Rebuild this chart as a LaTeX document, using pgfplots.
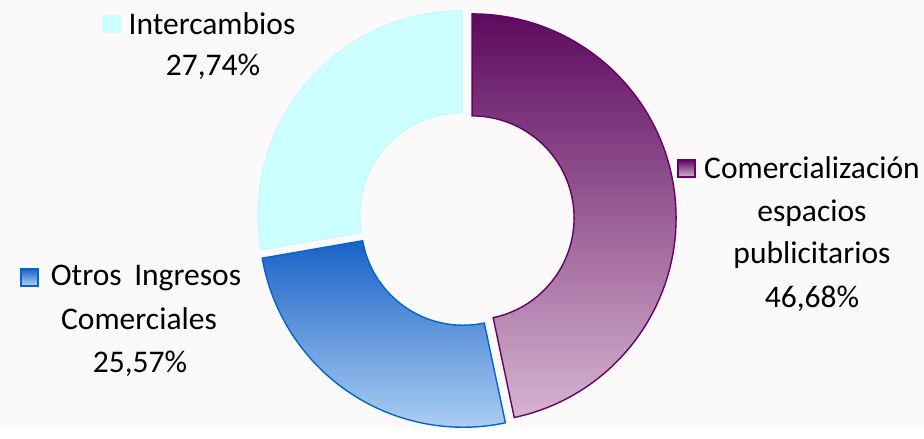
\documentclass[border=0pt]{standalone}
\usepackage{pgfplots}
\pgfplotsset{compat=1.18}
\usepackage{fontspec}
\setmainfont{Carlito}
\usetikzlibrary{calc}

\definecolor{purpleline}{HTML}{660066}
\definecolor{purpletop}{HTML}{5C0A5E}
\definecolor{purplebot}{HTML}{D6B4D0}
\definecolor{blueline}{HTML}{0066CC}
\definecolor{bluetop}{HTML}{1A62C8}
\definecolor{bluebot}{HTML}{B4D4F4}
\definecolor{cyanfill}{HTML}{CCFFFF}
\definecolor{cyanline}{HTML}{C4FAFC}
\definecolor{bgcol}{HTML}{FBF9F9}

% shares (percent)
\def\valCom{46.68}
\def\valOtros{25.57}
\def\valInter{27.74}

% geometry of the ring, in pixels of the reference
\def\cx{466.4}\def\cy{208.5}\def\R{204}\def\r{102}\def\d{5.7}

\pgfmathsetmacro\total{\valCom+\valOtros+\valInter}
\pgfmathsetmacro\aA{90}
\pgfmathsetmacro\aB{\aA-\valCom/\total*360}
\pgfmathsetmacro\aC{\aB-\valOtros/\total*360}
\pgfmathsetmacro\aD{\aC-\valInter/\total*360}

\newcommand\slice[3]{%
  \pgfmathsetmacro\mid{(#1+#2)/2}%
  \pgfmathsetmacro\ox{\cx+\d*cos(\mid)}%
  \pgfmathsetmacro\oy{\cy+\d*sin(\mid)}%
  \edef\temp{\noexpand\shade[#3] ($(axis cs:\ox,\oy)+(#1:\R pt)$)
    arc[start angle=#1,end angle=#2,radius=\R pt]
    -- ($(axis cs:\ox,\oy)+(#2:\r pt)$)
    arc[start angle=#2,end angle=#1,radius=\r pt] -- cycle;}%
  \temp}

\begin{document}
\begin{tikzpicture}
\begin{axis}[
    x=1pt, y=1pt,
    xmin=0, xmax=924, ymin=0, ymax=427,
    hide axis, clip=false, scale only axis,
]
  \fill[bgcol] (axis cs:0,0) rectangle (axis cs:924,427);

  \slice{\aA}{\aB}{top color=purpletop, bottom color=purplebot, draw=purpleline, line width=1.4pt}
  \slice{\aB}{\aC}{top color=bluetop, bottom color=bluebot, draw=blueline, line width=1.4pt}
  \slice{\aC}{\aD}{top color=cyanfill, bottom color=cyanfill, draw=cyanline, line width=1.2pt}

  % labels
  \begin{scope}[every node/.style={font=\fontsize{31.5}{40}\selectfont, anchor=base, inner sep=0pt}]
    \node at (axis cs:212,392) {Intercambios};
    \node at (axis cs:213,351) {27,74\%};

    \node at (axis cs:812,248) {Comercialización};
    \node at (axis cs:812,205) {espacios};
    \node at (axis cs:812,164) {publicitarios};
    \node at (axis cs:812,120) {46,68\%};

    \node at (axis cs:146,142) {Otros\hspace{0.4em}Ingresos};
    \node at (axis cs:139,98) {Comerciales};
    \node at (axis cs:140,55) {25,57\%};
  \end{scope}

  % legend keys
  \fill[cyanfill] (axis cs:102,394) rectangle (axis cs:122,412);
  \shade[top color=purpletop, bottom color=purplebot, draw=purpleline, line width=1.3pt]
    (axis cs:678,250) rectangle (axis cs:695,267);
  \shade[top color=bluetop, bottom color=bluebot, draw=blueline, line width=1.3pt]
    (axis cs:21,141) rectangle (axis cs:38,158);
\end{axis}
\end{tikzpicture}
\end{document}
